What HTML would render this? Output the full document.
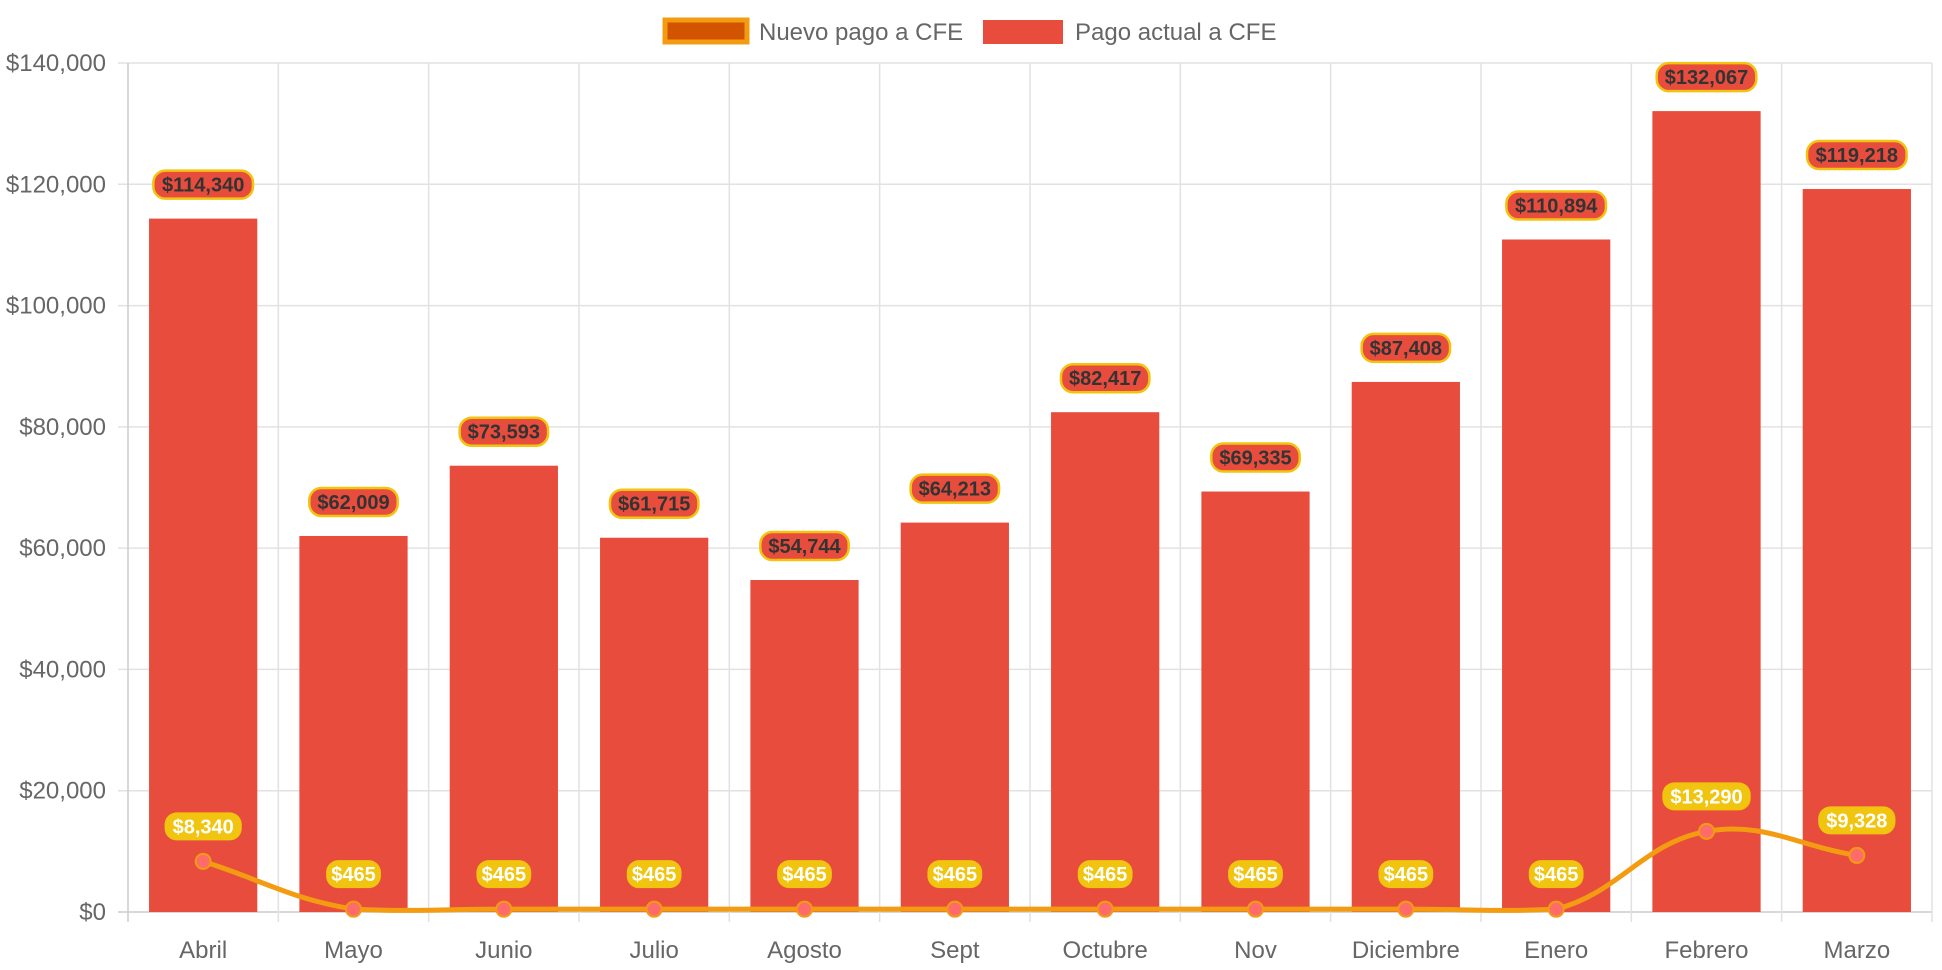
<!DOCTYPE html>
<html><head><meta charset="utf-8"><style>
html,body{margin:0;padding:0;background:#fff;}
svg{display:block;font-family:"Liberation Sans",Arial,sans-serif;}
</style></head><body>
<svg id="chart" width="1942" height="970" xmlns="http://www.w3.org/2000/svg">
<g id="legend">
 <g>
  <rect x="665" y="20" width="82" height="22" fill="#d35400" stroke="#f39c12" stroke-width="5"/>
  <text x="759" y="40" font-size="24" fill="#666">Nuevo pago a CFE</text>
 </g>
 <g>
  <rect x="983" y="20" width="80" height="24" fill="#e74c3c"/>
  <text x="1075" y="40" font-size="24" fill="#666">Pago actual a CFE</text>
 </g>
</g>
<g id="grid"></g><g id="bars"></g><g id="line"></g><g id="labels"></g>
</svg>
<script>
const categories=["Abril","Mayo","Junio","Julio","Agosto","Sept","Octubre","Nov","Diciembre","Enero","Febrero","Marzo"];
const actualValues=[114340,62009,73593,61715,54744,64213,82417,69335,87408,110894,132067,119218];
const nuevoValues=[8340,465,465,465,465,465,465,465,465,465,13290,9328];
const yTicks=[0,20000,40000,60000,80000,100000,120000,140000];
const X0=128,X1=1932,Y0=912,Y1=63,YMAX=140000;
const NS="http://www.w3.org/2000/svg";
const bw=(X1-X0)/categories.length;
const xc=i=>X0+bw*(i+0.5);
const y=v=>Y0-v/YMAX*(Y0-Y1);
const fmt=v=>"$"+v.toLocaleString("en-US");
function mk(t,a,p){const e=document.createElementNS(NS,t);for(const k in a)e.setAttribute(k,a[k]);p.appendChild(e);return e;}
const grid=document.getElementById('grid');
yTicks.forEach(t=>{
 const l=mk('line',{x1:X0-10,x2:X1,y1:y(t),y2:y(t),stroke:t===0?'#ccc':'#e2e2e2','stroke-width':1.5},grid);
 
 
 const tx=mk('text',{x:X0-22,y:y(t)+8,'text-anchor':'end','font-size':24,fill:'#666'},grid);
 tx.textContent=fmt(t);
 
 
});
for(let i=0;i<=categories.length;i++){
 const xx=X0+bw*i;
 const l=mk('line',{x1:xx,x2:xx,y1:Y1,y2:Y0+10,stroke:i===0?'#ccc':'#e2e2e2','stroke-width':1.5},grid);
 
 
}
categories.forEach((c,i)=>{
 const tx=mk('text',{x:xc(i),y:958,'text-anchor':'middle','font-size':24,fill:'#666'},grid);
 tx.textContent=c;
 
 
});
const bars=document.getElementById('bars'),labels=document.getElementById('labels');
function pill(cx,cy,text,bg,fg,border){
 const g=mk('g',{},labels);
 const w=text.length*11.2+10;
 mk('rect',{x:cx-w/2,y:cy-14,width:w,height:28,rx:12,fill:bg,stroke:border,'stroke-width':border==='none'?0:2.5},g);
 const t=mk('text',{x:cx,y:cy+7,'text-anchor':'middle','font-size':20,'font-weight':'bold',fill:fg},g);
 t.textContent=text;
 return g;
}
actualValues.forEach((v,i)=>{
 const bwid=bw*0.72;
 const r=mk('rect',{x:xc(i)-bwid/2,y:y(v),width:bwid,height:Y0-y(v),fill:'#e74c3c'},bars);
 
 
 const p=pill(xc(i),y(v)-34,fmt(v),'#e74c3c','#333','#f1c40f');
 
 
});
// chart.js-style spline, tension 0.4
const pts=nuevoValues.map((v,i)=>[xc(i),y(v)]);
const n=pts.length,T=0.4,cp=[];
for(let i=0;i<n;i++){
 const p=pts[Math.max(0,i-1)],c=pts[i],nx=pts[Math.min(n-1,i+1)];
 const d01=Math.hypot(c[0]-p[0],c[1]-p[1]),d12=Math.hypot(nx[0]-c[0],nx[1]-c[1]);
 let s01=d01/(d01+d12)||0,s12=d12/(d01+d12)||0;
 const fa=T*s01,fb=T*s12;
 cp.push({px:c[0]-fa*(nx[0]-p[0]),py:c[1]-fa*(nx[1]-p[1]),nx:c[0]+fb*(nx[0]-p[0]),ny:c[1]+fb*(nx[1]-p[1])});
}
let path=`M${pts[0][0]},${pts[0][1]}`;
for(let i=0;i<n-1;i++){path+=` C${cp[i].nx},${Math.min(Y0,cp[i].ny)} ${cp[i+1].px},${Math.min(Y0,cp[i+1].py)} ${pts[i+1][0]},${pts[i+1][1]}`;}
const lg=document.getElementById('line');
const lp=mk('path',{d:path,fill:'none',stroke:'#f39c12','stroke-width':5},lg);


pts.forEach((p,i)=>{
 const c=mk('circle',{cx:p[0],cy:p[1],r:7.5,fill:'#ff6b6b',stroke:'#f39c12','stroke-width':2},lg);
 
 
 const pl=pill(p[0],p[1]-35,fmt(nuevoValues[i]),'#f1c40f','#fff','none');
 
 
});
</script>
</body></html>
